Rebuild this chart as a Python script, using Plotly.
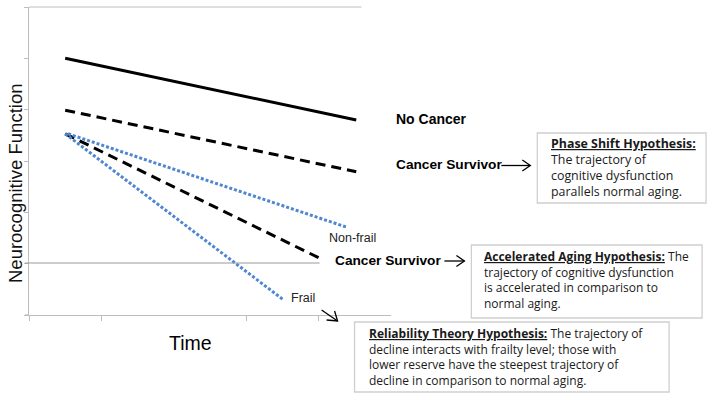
import plotly.graph_objects as go

# ---- data (time units, function units) ----
no_cancer_x = [0.5, 4.52]
no_cancer_y = [5.0, 3.8]
phase_x = [0.5, 4.52]
phase_y = [3.99, 2.79]
accel_x = [0.5, 4.01]
accel_y = [3.53, 1.11]
nonfrail_x = [0.54, 4.39]
nonfrail_y = [3.53, 1.71]
frail_x = [0.5, 3.52]
frail_y = [3.53, 0.29]

x_tickvals = [0, 1, 3, 4]
y_tickvals = [0, 1, 2, 3, 4, 5, 6]

# plot area in pixels
L, R, T, B = 29, 391.5, 7, 315
W, H = 714, 400


def px(x):
    return (x - L) / (R - L)


def py(y):
    return (B - y) / (B - T)


fig = go.Figure()
black = "#000000"
blue = "#4f86d0"
fig.add_trace(go.Scatter(x=no_cancer_x, y=no_cancer_y, mode="lines",
                         line=dict(color=black, width=3)))
fig.add_trace(go.Scatter(x=phase_x, y=phase_y, mode="lines",
                         line=dict(color=black, width=3, dash="10px,6px")))
fig.add_trace(go.Scatter(x=accel_x, y=accel_y, mode="lines",
                         line=dict(color=black, width=3, dash="10px,6px")))
fig.add_trace(go.Scatter(x=nonfrail_x, y=nonfrail_y, mode="lines",
                         line=dict(color=blue, width=3, dash="3px,2px")))
fig.add_trace(go.Scatter(x=frail_x, y=frail_y, mode="lines",
                         line=dict(color=blue, width=3, dash="3px,2px")))

shapes = []
grey = "#bdbdbd"
# top border line and gridline
shapes.append(dict(type="line", xref="paper", yref="paper", x0=px(29), x1=px(362),
                   y0=py(7), y1=py(7), line=dict(color=grey, width=1.2)))
shapes.append(dict(type="line", xref="paper", yref="paper", x0=px(25), x1=px(320),
                   y0=py(263), y1=py(263), line=dict(color="#9a9a9a", width=1.2)))
shapes.append(dict(type="line", xref="paper", yref="paper", x0=px(25), x1=px(29),
                   y0=py(315), y1=py(315), line=dict(color=grey, width=1.2)))


def path(points):
    d = "M " + " L ".join(f"{px(a)} {py(b)}" for a, b in points)
    return d


arrow = dict(color="#000000", width=1.3)
# arrows
for pts in [
    [(502, 165.5), (531, 165.5)], [(523, 160), (531, 165.5), (523, 171)],
    [(445, 261), (465, 261)], [(457, 255.5), (465, 261), (457, 266.5)],
    [(322, 310), (338, 321)], [(327, 320), (338, 321), (335, 311)],
]:
    shapes.append(dict(type="path", xref="paper", yref="paper", path=path(pts), line=arrow))

# text boxes
boxcol = "#cfcfcf"
for x0, y0, x1, y1 in [(538, 133, 707, 203), (472, 245, 703, 318), (355, 322, 670, 392)]:
    shapes.append(dict(type="rect", xref="paper", yref="paper", x0=px(x0), x1=px(x1),
                       y0=py(y0), y1=py(y1), line=dict(color=boxcol, width=1.3),
                       fillcolor="white"))

ann = []
af = "Liberation Sans"


def label(text, x, y, size, bold=False, color="#000", anchor="left", family=af):
    ann.append(dict(text=f"<b>{text}</b>" if bold else text, x=px(x), y=py(y),
                    xref="paper", yref="paper", showarrow=False, xanchor=anchor,
                    yanchor="middle", align="left",
                    font=dict(family=family, size=size, color=color)))


label("No Cancer", 395, 118.5, 14, True)
label("Cancer Survivor", 395, 164.5, 13.7, True)
label("Non-frail", 327, 238, 12.5, False, "#222")
label("Cancer Survivor", 333, 260.5, 13.7, True)
label("Frail", 289, 298, 12.5, False, "#222")
label("Time", 191, 343, 19.5, False, "#000", "center")
ann.append(dict(text="Neurocognitive Function", x=px(15), y=py(183), xref="paper", yref="paper",
                showarrow=False, textangle=-90, xanchor="center", yanchor="middle",
                font=dict(family=af, size=18.5, color="#111")))

bf = "Open Sans"


def box(lines, x, yc, size):
    label("<br>".join(lines), x, yc, size, False, "#1a1a1a", "left", bf)


box(["<b><u>Phase Shift Hypothesis:</u></b>", "The trajectory of",
     "cognitive dysfunction", "parallels normal aging."], 550, 167.5, 12.4)
box(["<b><u>Accelerated Aging Hypothesis:</u></b> The", "trajectory of cognitive dysfunction",
     "is accelerated in comparison to", "normal aging."], 483, 280, 12)
box(["<b><u>Reliability Theory Hypothesis:</u></b> The trajectory of",
     "decline interacts with frailty level; those with",
     "lower reserve have the steepest trajectory of",
     "decline in comparison to normal aging."], 367, 357, 12)

fig.update_layout(
    width=W, height=H, margin=dict(l=L, r=W - R, t=T, b=H - B),
    paper_bgcolor="white", plot_bgcolor="white", showlegend=False,
    shapes=shapes, annotations=ann,
    xaxis=dict(range=[0, 5], showgrid=False, zeroline=False, showline=True, linecolor=grey,
               linewidth=1.2, ticks="outside", ticklen=5, tickcolor=grey, tickvals=x_tickvals,
               showticklabels=False),
    yaxis=dict(range=[0, 6], showgrid=False, zeroline=False, showline=True, linecolor=grey,
               linewidth=1.2, ticks="outside", ticklen=4, tickcolor=grey, tickvals=y_tickvals,
               showticklabels=False),
)
fig.write_html("out.html", config={"displayModeBar": False},
               post_script="document.body.style.margin='0';document.body.style.overflow='hidden';")
